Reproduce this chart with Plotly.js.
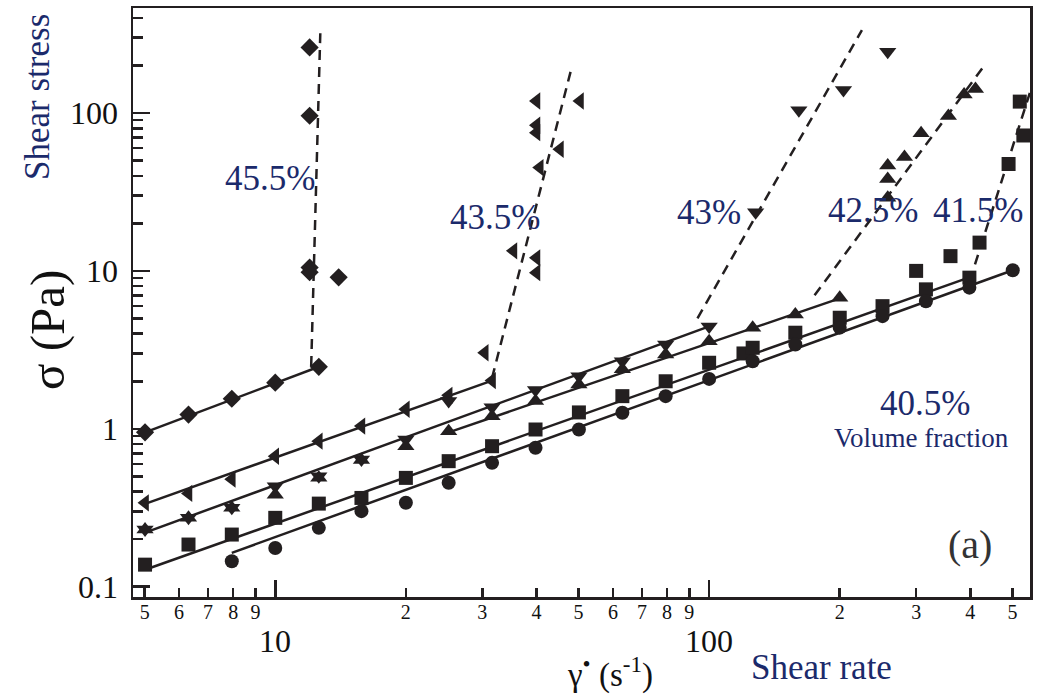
<!DOCTYPE html>
<html>
<head>
<meta charset="utf-8">
<script src="https://cdn.plot.ly/plotly-3.0.1.min.js"></script>
<style>html,body{margin:0;padding:0;background:#fff;}#chart{width:1038px;height:700px;}</style>
</head>
<body>
<div id="chart"></div>
<script>
// ---- data (shear rate s^-1, shear stress Pa) ----
const phi455X = [5.01, 6.31, 7.94, 10, 12.6, 12, 12, 12, 12, 14];
const phi455Y = [0.95, 1.23, 1.55, 1.96, 2.47, 260, 96, 10.5, 9.8, 9.1];
const fit455X = [5.01, 12.6];
const fit455Y = [0.95, 2.47];
const jam455X = [12.1, 12.7];
const jam455Y = [2.5, 320];

const phi435X = [5.01, 6.31, 7.94, 10, 12.6, 15.8, 20, 25.1, 31.6, 30.4, 35.4, 40, 40, 40.7, 45.3, 40, 40, 40, 50.4];
const phi435Y = [0.34, 0.39, 0.48, 0.67, 0.835, 1.04, 1.33, 1.63, 2.02, 3.03, 13.4, 12.1, 9.74, 45.1, 58.9, 75, 83.6, 119, 119];
const fit435X = [5.01, 31.6];
const fit435Y = [0.335, 2.02];
const jam435X = [31.6, 48];
const jam435Y = [2.1, 185];

const phi43X = [5.01, 6.31, 7.94, 10, 12.6, 15.8, 20, 25.1, 31.6, 39.8, 50.1, 63.1, 79.4, 100, 128, 161, 204, 258];
const phi43Y = [0.23, 0.273, 0.316, 0.433, 0.50, 0.64, 0.855, 1.50, 1.37, 1.76, 2.15, 2.68, 3.42, 4.45, 23.5, 104, 140, 244];
const fit43X = [5.01, 100];
const fit43Y = [0.22, 4.45];
const jam43X = [94, 225];
const jam43Y = [5.0, 335];

const phi425X = [5.01, 6.31, 7.94, 10, 12.6, 15.8, 20, 25.1, 31.6, 39.8, 50.1, 63.1, 79.4, 100, 126, 158, 200, 258, 258, 258, 282, 308, 356, 387, 411];
const phi425Y = [0.23, 0.273, 0.316, 0.383, 0.49, 0.635, 0.776, 0.966, 1.20, 1.50, 1.91, 2.38, 2.96, 3.59, 4.37, 5.30, 6.76, 29.1, 38.2, 46.5, 52.7, 74.5, 95.5, 131, 142];
const fit425X = [25.1, 200];
const fit425Y = [0.95, 6.7];
const jam425X = [175, 434];
const jam425Y = [7.0, 205];

const phi415X = [5.01, 6.31, 7.94, 10, 12.6, 15.8, 20, 25.1, 31.6, 39.8, 50.1, 63.1, 79.4, 100, 120, 126, 158, 200, 251, 316, 398, 300, 360, 420, 490, 520, 530];
const phi415Y = [0.138, 0.185, 0.214, 0.273, 0.336, 0.365, 0.489, 0.624, 0.776, 0.99, 1.27, 1.61, 2.0, 2.62, 3.0, 3.26, 4.06, 5.05, 5.98, 7.64, 9.06, 10.0, 12.4, 15.1, 47.5, 118, 72];
const fit415X = [5.01, 398];
const fit415Y = [0.128, 9.1];
const jam415X = [410, 550];
const jam415Y = [11.0, 137];

const phi405X = [7.94, 10, 12.6, 15.8, 20, 25.1, 31.6, 39.8, 50.1, 63.1, 79.4, 100, 126, 158, 200, 251, 316, 398, 501];
const phi405Y = [0.145, 0.176, 0.236, 0.301, 0.34, 0.455, 0.609, 0.758, 0.99, 1.263, 1.61, 2.07, 2.68, 3.42, 4.37, 5.17, 6.43, 7.83, 10.1];
const fit405X = [7.94, 501];
const fit405Y = [0.164, 10.1];

const xMinorTickVals = [5, 6, 7, 8, 9, 20, 30, 40, 50, 60, 70, 80, 90, 200, 300, 400, 500];
const xMinorTickText = ['5', '6', '7', '8', '9', '2', '3', '4', '5', '6', '7', '8', '9', '2', '3', '4', '5'];
const xMajorTickVals = [10, 100];
const xMajorTickText = ['10', '100'];
const yMajorTickVals = [0.1, 1, 10, 100];
const yMajorTickText = ['0.1', '1', '10', '100'];
const yMinorTickVals = [0.2, 0.3, 0.4, 0.5, 0.6, 0.7, 0.8, 0.9, 2, 3, 4, 5, 6, 7, 8, 9, 20, 30, 40, 50, 60, 70, 80, 90, 200, 300, 400];

// ---- styling ----
const INK = '#231f20';
const NAVY = '#1b2a6b';
const SERIF = 'Liberation Serif';

function fitLine(x, y) {
  return {x: x, y: y, type: 'scatter', mode: 'lines', line: {color: INK, width: 2.5}, hoverinfo: 'skip', showlegend: false};
}
function jamLine(x, y) {
  return {x: x, y: y, type: 'scatter', mode: 'lines', line: {color: INK, width: 2.5, dash: '10px,7px'}, hoverinfo: 'skip', showlegend: false};
}
function pts(x, y, symbol, size, name) {
  return {x: x, y: y, type: 'scatter', mode: 'markers', name: name,
    marker: {symbol: symbol, size: size, color: INK, line: {width: 0}}, showlegend: false};
}

const traces = [
  fitLine(fit455X, fit455Y), jamLine(jam455X, jam455Y),
  fitLine(fit435X, fit435Y), jamLine(jam435X, jam435Y),
  fitLine(fit43X, fit43Y), jamLine(jam43X, jam43Y),
  fitLine(fit425X, fit425Y), jamLine(jam425X, jam425Y),
  fitLine(fit415X, fit415Y), jamLine(jam415X, jam415Y),
  fitLine(fit405X, fit405Y),
  pts(phi455X, phi455Y, 'diamond', 14, '45.5%'),
  pts(phi435X, phi435Y, 'triangle-left', 15, '43.5%'),
  pts(phi43X, phi43Y, 'triangle-down', 15, '43%'),
  pts(phi425X, phi425Y, 'triangle-up', 15, '42.5%'),
  pts(phi415X, phi415Y, 'square', 14, '41.5%'),
  pts(phi405X, phi405Y, 'circle', 14, '40.5%')
];

function note(text, x, y, size, color, extra) {
  return Object.assign({text: text, x: x, y: y, xref: 'paper', yref: 'paper', showarrow: false,
    xanchor: 'center', yanchor: 'middle', font: {family: SERIF, size: size, color: color}}, extra || {});
}

const annotations = [
  note('45.5%', 0.1527, 0.711, 35, NAVY),
  note('43.5%', 0.4036, 0.6435, 35, NAVY),
  note('43%', 0.6416, 0.652, 35, NAVY),
  note('42.5%', 0.825, 0.657, 35, NAVY),
  note('41.5%', 0.9415, 0.657, 35, NAVY),
  note('40.5%', 0.883, 0.3277, 35, NAVY),
  note('Volume fraction', 0.879, 0.27, 27, NAVY),
  note('(a)', 0.933, 0.0883, 40, '#333333'),
  note('Shear stress', -0.1059, 0.849, 35, NAVY, {textangle: -90}),
  note('σ (Pa)', -0.0959, 0.4533, 49, '#111111', {textangle: -90}),
  note('γ<sup>•</sup> (s<sup>-1</sup>)', 0.532, -0.128, 33, '#111111'),
  note('Shear rate', 0.768, -0.119, 35, NAVY)
];
xMajorTickVals.forEach(function (v, i) {
  annotations.push({text: xMajorTickText[i], x: Math.log10(v), y: -0.0747, xref: 'x', yref: 'paper',
    showarrow: false, xanchor: 'center', yanchor: 'middle', font: {family: SERIF, size: 32, color: '#111111'}});
});

const layout = {
  width: 1038, height: 700,
  margin: {l: 133, r: 8, t: 8, b: 103, pad: 0},
  paper_bgcolor: '#ffffff', plot_bgcolor: '#ffffff',
  showlegend: false,
  xaxis: {
    type: 'log', range: [Math.log10(4.70), Math.log10(549)],
    showgrid: false, zeroline: false,
    showline: true, mirror: true, linecolor: INK, linewidth: 2.5,
    tickmode: 'array', tickvals: xMinorTickVals, ticktext: xMinorTickText,
    ticks: 'inside', ticklen: 9, tickwidth: 2.5, tickcolor: INK,
    tickfont: {family: SERIF, size: 20, color: '#111111'},
    ticklabelstandoff: -5,
    minor: {tickmode: 'array', tickvals: xMajorTickVals, ticks: 'inside', ticklen: 17, tickwidth: 2.5, tickcolor: INK, showgrid: false}
  },
  yaxis: {
    type: 'log', range: [Math.log10(0.0861), Math.log10(462)],
    showgrid: false, zeroline: false,
    showline: true, mirror: true, linecolor: INK, linewidth: 2.5,
    tickmode: 'array', tickvals: yMajorTickVals, ticktext: yMajorTickText,
    ticks: 'inside', ticklen: 17, tickwidth: 2.5, tickcolor: INK,
    tickfont: {family: SERIF, size: 32, color: '#111111'},
    ticklabelstandoff: 6,
    minor: {tickmode: 'array', tickvals: yMinorTickVals, ticks: 'inside', ticklen: 10, tickwidth: 2.5, tickcolor: INK, showgrid: false}
  },
  annotations: annotations
};

Plotly.newPlot('chart', traces, layout, {displayModeBar: false, staticPlot: true});
</script>
</body>
</html>
